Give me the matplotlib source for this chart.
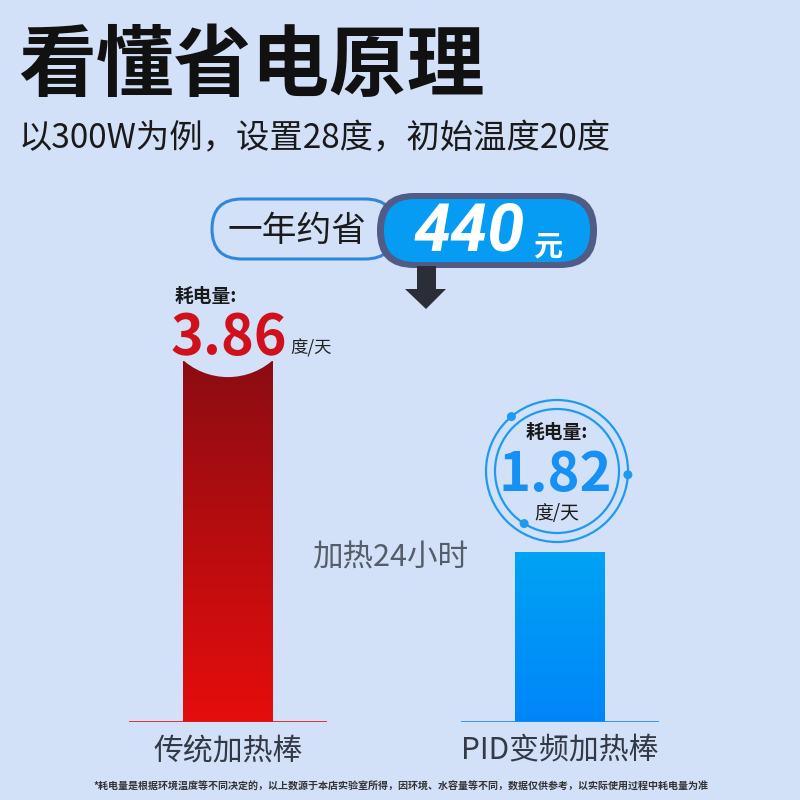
import numpy as np
import matplotlib.pyplot as plt
from matplotlib.colors import LinearSegmentedColormap
from matplotlib.patches import FancyBboxPatch, Circle, Ellipse, Polygon

plt.rcParams['font.family'] = ['Noto Sans CJK SC', 'DejaVu Sans']

bg = '#D2E1F8'

# data
categories = ['传统加热棒', 'PID变频加热棒']
values = [3.86, 1.82]
value_text = ['3.86', '1.82']
unit = '度/天'
label_head = '耗电量:'
saving = 440
title = '看懂省电原理'
subtitle = '以300W为例，设置28度，初始温度20度'
saving_head = '一年约省'
hours_note = '加热24小时'
footnote = ('*耗电量是根据环境温度等不同决定的，以上数源于本店实验室所得，'
            '因环境、水容量等不同，数据仅供参考，以实际使用过程中耗电量为准')

top_colors = ['#8C0D12', '#00A3F4']
bottom_colors = ['#E60C0C', '#0085F9']
line_colors = ['#E2161B', '#1A8DF2']

fig = plt.figure(figsize=(8, 8), dpi=100)
fig.patch.set_facecolor(bg)

# bar axes, baseline at 722 px, 93 px per unit
px_per_unit = 93.5
bx = fig.add_axes([62/800, 78/800, 664/800, 425/800])
x = np.arange(len(categories))
bars = bx.bar(x, values, width=0.271, color='none', edgecolor='none')
grad = np.linspace(0, 1, 256).reshape(-1, 1)
for i, b in enumerate(bars):
    cmap = LinearSegmentedColormap.from_list('g%d' % i, [bottom_colors[i], top_colors[i]])
    im = bx.imshow(grad, cmap=cmap, aspect='auto', origin='lower', zorder=2,
                   extent=[b.get_x(), b.get_x() + b.get_width(), 0, b.get_height()])
    im.set_clip_path(b)
    bx.hlines(0, x[i] - 0.297, x[i] + 0.297, color=line_colors[i], lw=1.2, zorder=3)

# concave top of the first bar
ry = 68 / px_per_unit
bx.add_patch(Ellipse((x[0], values[0] - 16 / px_per_unit + ry), 2 * 68 / 332, 2 * ry,
                     fc=bg, ec='none', zorder=4))

bx.set_xlim(-0.5, 1.5)
bx.set_ylim(0, 425 / px_per_unit)
bx.set_facecolor('none')
for s in bx.spines.values():
    s.set_visible(False)
bx.set_yticks([])
bx.set_xticks(x)
bx.set_xticklabels(categories, fontsize=21.5, color='#333a45')
bx.tick_params(axis='x', length=0, pad=10)

# overlay in pixel coordinates
ax = fig.add_axes([0, 0, 1, 1])
ax.set_xlim(0, 800)
ax.set_ylim(800, 0)
ax.axis('off')

ax.text(18, 67, title, fontsize=56, fontweight='heavy', color='#111111', ha='left', va='center')
ax.text(19, 139, subtitle, fontsize=24, fontweight='medium', color='#1a1a1a', ha='left', va='center')

# saving badge
ax.add_patch(FancyBboxPatch((212, 199), 183, 60, boxstyle='round,pad=0,rounding_size=30',
                            fc=bg, ec='#2F86DA', lw=2.2))
ax.text(297, 231, saving_head, fontsize=25, color='#1b1b1b', ha='center', va='center')
ax.add_patch(FancyBboxPatch((377, 193), 220, 75, boxstyle='round,pad=0,rounding_size=37',
                            fc='#505C86', ec='none'))
ax.add_patch(FancyBboxPatch((384, 199), 206, 63, boxstyle='round,pad=0,rounding_size=31',
                            fc='#079CF3', ec='none'))
ax.text(469, 232, str(saving), fontsize=48, fontweight='bold', style='italic',
        family=['Roboto', 'DejaVu Sans'], color='white', ha='center', va='center')
ax.text(548, 246, '元', fontsize=21, fontweight='bold', color='white', ha='center', va='center')
ax.add_patch(Polygon([(417, 266), (436, 266), (436, 289), (446, 289), (426, 309),
                      (405, 289), (417, 289)], closed=True, fc='#2B2E36', ec='none'))

# first bar label
ax.text(175, 296, label_head, fontsize=13.5, fontweight='bold', color='#1a1a1a', ha='left', va='center')
ax.text(171, 338, value_text[0], fontsize=40, fontweight='bold', color='#D0111B', ha='left', va='center')
ax.text(290, 348, unit, fontsize=12.5, color='#222222', ha='left', va='center')

# second bar label in circle
cx, cy = 557, 471
ax.add_patch(Circle((cx, cy), 71, fill=False, ec='#1E9BF0', lw=1.6))
ax.add_patch(Circle((cx, cy), 62, fill=False, ec='#1E9BF0', lw=1.6))
for ang, r in [(130, 71), (-3, 71), (-122, 62)]:
    a = np.deg2rad(ang)
    ax.add_patch(Circle((cx + r * np.cos(a), cy - r * np.sin(a)), 4.5, fc='#1E9BF0', ec='none'))
ax.text(cx, 432, label_head, fontsize=13.5, fontweight='bold', color='#1a1a1a', ha='center', va='center')
ax.text(cx - 2, 475, value_text[1], fontsize=39, fontweight='bold', color='#1590F5', ha='center', va='center')
ax.text(cx, 513, unit, fontsize=13.5, color='#1a1a1a', ha='center', va='center')

ax.text(390, 558, hours_note, fontsize=22, color='#555d68', ha='center', va='center')
ax.text(401, 787, footnote, fontsize=7.2, fontweight='bold', color='#333333', ha='center', va='center')

fig.savefig('out.png', dpi=100, facecolor=bg)
